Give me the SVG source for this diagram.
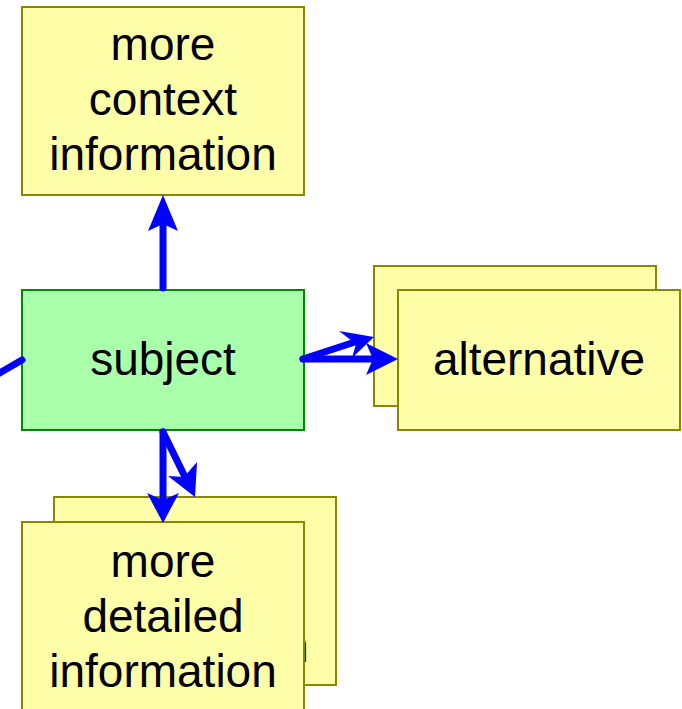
<svg xmlns="http://www.w3.org/2000/svg" width="682" height="709" viewBox="0 0 682 709">
  <style>
    .box rect { fill: #ffffaa; stroke: #888800; stroke-width: 2; }
    .main rect { fill: #aaffaa; stroke: #008800; stroke-width: 2; }
    text { font-family: "Liberation Sans", Arial, sans-serif; font-size: 46px; fill: #000; text-anchor: middle; }
    .edge { stroke: #0000ff; stroke-width: 7; stroke-linecap: round; fill: none; }
    .head { fill: #0000ff; }
  </style>
  <rect width="682" height="709" fill="#ffffff"/>

  <g id="context" class="box">
    <rect x="22" y="7" width="282" height="188"/>
    <text x="163" y="60">more</text>
    <text x="163" y="115">context</text>
    <text x="163" y="170">information</text>
  </g>

  <g id="alternative-back" class="box">
    <rect x="374" y="266" width="282" height="140"/>
  </g>
  <g id="alternative" class="box">
    <rect x="398" y="290" width="282" height="140"/>
    <text x="539" y="375">alternative</text>
  </g>

  <g id="detailed-back" class="box">
    <rect x="54" y="497" width="282" height="188"/>
    <text x="195" y="662">information</text>
  </g>
  <g id="detailed" class="box">
    <rect x="22" y="522" width="282" height="200"/>
    <text x="163" y="577">more</text>
    <text x="163" y="632">detailed</text>
    <text x="163" y="687">information</text>
  </g>

  <g id="subject" class="main">
    <rect x="22" y="290" width="282" height="140"/>
    <text x="163" y="375">subject</text>
  </g>

  <g id="connectors">
    <line class="edge" x1="163" y1="288" x2="163" y2="215"/>
    <polygon class="head" points="163,195 178,231 163,224 148,231"/>

    <line class="edge" x1="303" y1="359" x2="380" y2="359"/>
    <polygon class="head" points="398,359 366,375 373,359 366,343"/>

    <line class="edge" x1="303" y1="359" x2="358" y2="341"/>
    <polygon class="head" points="374,337 352,358 356,344 339,331"/>

    <line class="edge" x1="163" y1="432" x2="163" y2="505"/>
    <polygon class="head" points="163,523 147,493 163,500 179,493"/>

    <line class="edge" x1="163" y1="432" x2="186" y2="479"/>
    <polygon class="head" points="195,497 168,476 184,477 197,462"/>

    <line class="edge" x1="22" y1="360" x2="-4" y2="375"/>
  </g>
</svg>
